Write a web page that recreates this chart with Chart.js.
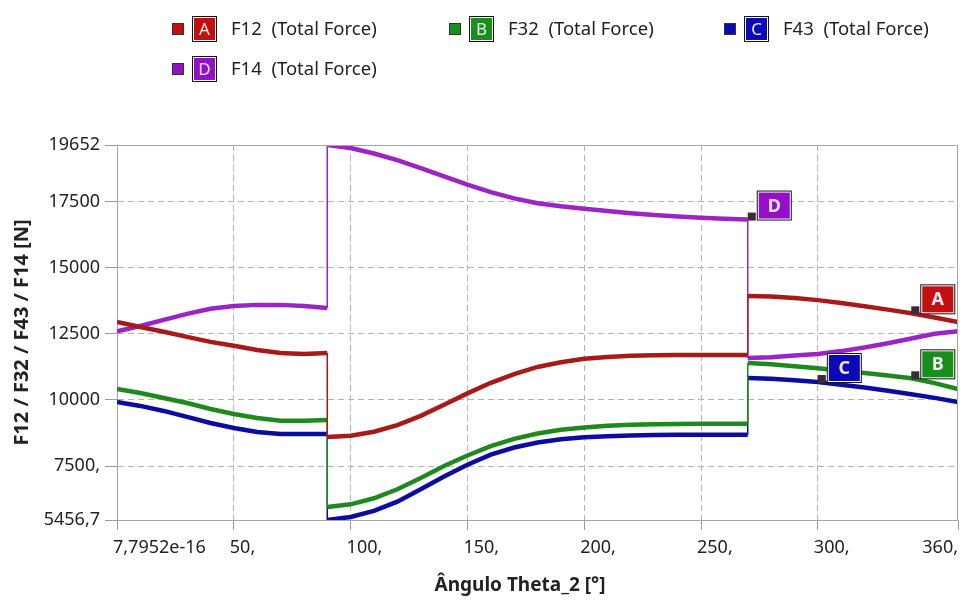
<!DOCTYPE html>
<html>
<head>
<meta charset="utf-8">
<script src="https://cdn.jsdelivr.net/npm/chart.js@4.4.0/dist/chart.umd.min.js"></script>
<style>
  html, body { margin: 0; padding: 0; background: #fff; }
  #wrap { width: 960px; height: 605px; }
</style>
</head>
<body>
<div id="wrap"><canvas id="forceChart" width="960" height="605"></canvas></div>
<script>
// crank angle samples (deg); 90 and 270 appear twice for the jumps
const theta = [0, 10, 20, 30, 40, 50, 60, 70, 80, 90,
  90, 100, 110, 120, 130, 140, 150, 160, 170, 180, 190, 200, 210, 220, 230, 240, 250, 260, 270,
  270, 280, 290, 300, 310, 320, 330, 340, 350, 360];

const f12 = [12950, 12760, 12580, 12390, 12200, 12050, 11890, 11780, 11740, 11780,
  8600, 8650, 8800, 9050, 9400, 9820, 10250, 10650, 10980, 11250, 11430, 11560, 11630, 11670, 11690, 11700, 11700, 11700, 11700,
  13940, 13920, 13860, 13780, 13670, 13550, 13420, 13280, 13120, 12950];

const f32 = [10415, 10265, 10075, 9885, 9660, 9470, 9320, 9210, 9210, 9240,
  5950, 6050, 6280, 6620, 7050, 7500, 7900, 8250, 8530, 8730, 8870, 8960, 9020, 9060, 9080, 9090, 9100, 9100, 9100,
  11400, 11350, 11280, 11200, 11110, 11020, 10930, 10820, 10640, 10415];

const f43 = [9925, 9775, 9585, 9360, 9130, 8940, 8790, 8710, 8710, 8710,
  5457, 5570, 5800, 6150, 6620, 7100, 7550, 7930, 8200, 8390, 8510, 8590, 8630, 8660, 8670, 8680, 8680, 8680, 8680,
  10830, 10800, 10750, 10680, 10580, 10470, 10350, 10220, 10080, 9925];

const f14 = [12600, 12800, 13030, 13260, 13450, 13560, 13600, 13600, 13560, 13480,
  19652, 19540, 19330, 19080, 18780, 18460, 18150, 17870, 17630, 17450, 17330, 17240, 17150, 17070, 17000, 16950, 16900, 16860, 16830,
  11590, 11620, 11680, 11740, 11850, 11990, 12150, 12330, 12510, 12600];

const seriesNames = ["F12  (Total Force)", "F32  (Total Force)", "F43  (Total Force)", "F14  (Total Force)"];
const seriesTags = ["A", "B", "C", "D"];
const tagAngles = [340, 340, 300, 270];

const xTickValues = [0, 50, 100, 150, 200, 250, 300, 360];
const xTickLabels = ["7,7952e-16", "50,", "100,", "150,", "200,", "250,", "300,", "360,"];
const yTickValues = [5456.7, 7500, 10000, 12500, 15000, 17500, 19652];
const yTickLabels = ["5456,7", "7500,", "10000", "12500", "15000", "17500", "19652"];

const lineColors = ["#a81a1a", "#1e8a1e", "#0c0ca0", "#9a24c4"];
const tagColors = ["#c40f0f", "#16901a", "#0a0ab8", "#9410c8"];

const FONT = "'Noto Sans', 'Open Sans', sans-serif";

function points(values) {
  return theta.map((t, i) => ({ x: t, y: values[i] }));
}

const allSeries = [f12, f32, f43, f14];

const datasets = allSeries.map((vals, i) => ({
  label: seriesNames[i],
  data: points(vals),
  borderColor: lineColors[i],
  backgroundColor: lineColors[i],
  borderWidth: 4.5,
  pointRadius: 0,
  tension: 0,
  segment: {
    // jumps are drawn as thin verticals
    borderWidth: ctx => (ctx.p0.parsed.x === ctx.p1.parsed.x ? 1.5 : undefined)
  }
}));

// legend, x tick labels, x title, frame and letter tags
const decorations = {
  id: "decorations",
  afterDraw(chart) {
    const { ctx, chartArea, scales } = chart;
    ctx.save();

    // top and right frame
    ctx.strokeStyle = "#a6a6a6";
    ctx.lineWidth = 1;
    ctx.setLineDash([]);
    ctx.beginPath();
    ctx.moveTo(chartArea.left, chartArea.top + 0.5);
    ctx.lineTo(chartArea.right - 0.5, chartArea.top + 0.5);
    ctx.lineTo(chartArea.right - 0.5, chartArea.bottom);
    ctx.stroke();

    // x tick labels, left aligned on the tick, last one flush right
    ctx.fillStyle = "#222";
    ctx.font = "18px " + FONT;
    ctx.textBaseline = "middle";
    xTickValues.forEach((v, i) => {
      const px = scales.x.getPixelForValue(v);
      if (i === xTickValues.length - 1) {
        ctx.textAlign = "right";
        ctx.fillText(xTickLabels[i], chartArea.right, 548);
      } else {
        ctx.textAlign = "left";
        ctx.fillText(xTickLabels[i], px - 4, 548);
      }
    });

    // x title
    ctx.font = "bold 19px " + FONT;
    ctx.textAlign = "center";
    ctx.fillText("Ângulo Theta_2 [°]", 520, 586);

    // legend
    const legendPos = [[172, 29], [449, 29], [724, 29], [172, 69]];
    chart.data.datasets.forEach((ds, i) => {
      const [lx, ly] = legendPos[i];
      ctx.fillStyle = tagColors[i];
      ctx.fillRect(lx, ly - 6, 12, 12);
      ctx.strokeStyle = "#333";
      ctx.lineWidth = 1;
      ctx.strokeRect(lx + 0.5, ly - 5.5, 11, 11);
      drawTag(ctx, lx + 20, ly - 13, 25, 26, seriesTags[i], tagColors[i], "17px ");
      ctx.fillStyle = "#222";
      ctx.font = "18.5px " + FONT;
      ctx.textAlign = "left";
      ctx.textBaseline = "middle";
      ctx.fillText(ds.label, lx + 59, ly + 1);
    });

    // letter tags on the curves
    chart.data.datasets.forEach((ds, i) => {
      const idx = theta.indexOf(tagAngles[i]);
      const pt = chart.getDatasetMeta(i).data[idx];
      const px = pt.x, py = pt.y;
      ctx.fillStyle = "#3a2a3a";
      ctx.fillRect(px, py - 7, 8, 8);
      drawTag(ctx, px + 9, py - 29, 35, 30, seriesTags[i], tagColors[i], "bold 18px ");
    });

    ctx.restore();
  }
};

function drawTag(ctx, x, y, w, h, letter, color, font) {
  ctx.fillStyle = "#111";
  ctx.fillRect(x, y, w, h);
  ctx.fillStyle = "#fff";
  ctx.fillRect(x + 1, y + 1, w - 2, h - 2);
  ctx.fillStyle = color;
  ctx.fillRect(x + 2, y + 2, w - 4, h - 4);
  ctx.fillStyle = "#f4e8f4";
  ctx.font = font + FONT;
  ctx.textAlign = "center";
  ctx.textBaseline = "middle";
  ctx.fillText(letter, x + w / 2, y + h / 2 + 1);
}

new Chart(document.getElementById("forceChart"), {
  type: "line",
  data: { datasets },
  options: {
    responsive: false,
    animation: false,
    devicePixelRatio: 1,
    layout: { padding: { top: 145, right: 2, left: 0, bottom: 0 } },
    plugins: {
      legend: { display: false },
      tooltip: { enabled: false }
    },
    scales: {
      x: {
        type: "linear",
        min: 0,
        max: 360,
        afterBuildTicks: s => { s.ticks = xTickValues.map(v => ({ value: v })); },
        afterFit: s => { s.height = 85; },
        ticks: { display: false },
        grid: {
          color: c => (c.index === 0 || c.index === xTickValues.length - 1 ? "rgba(0,0,0,0)" : "#b4b4b4"),
          lineWidth: 1,
          tickLength: 10,
          tickColor: "#9a9a9a"
        },
        border: { color: "#a6a6a6", width: 1, dash: [6, 4] }
      },
      y: {
        type: "linear",
        min: 5456.7,
        max: 19652,
        afterBuildTicks: s => { s.ticks = yTickValues.map(v => ({ value: v })); },
        afterFit: s => { s.width = 117; },
        ticks: {
          autoSkip: false,
          padding: 5,
          color: "#222",
          font: { family: FONT, size: 18 },
          callback: (v, i) => yTickLabels[i]
        },
        grid: {
          color: c => (c.index === 0 || c.index === yTickValues.length - 1 ? "rgba(0,0,0,0)" : "#b4b4b4"),
          lineWidth: 1,
          tickLength: 12,
          tickColor: "#9a9a9a"
        },
        border: { color: "#a6a6a6", width: 1, dash: [6, 4] },
        title: {
          display: true,
          text: "F12 / F32 / F43 / F14 [N]",
          color: "#222",
          font: { family: FONT, size: 20, weight: "bold" },
          padding: { top: 10, bottom: 0 }
        }
      }
    }
  },
  plugins: [decorations]
});
</script>
</body>
</html>
